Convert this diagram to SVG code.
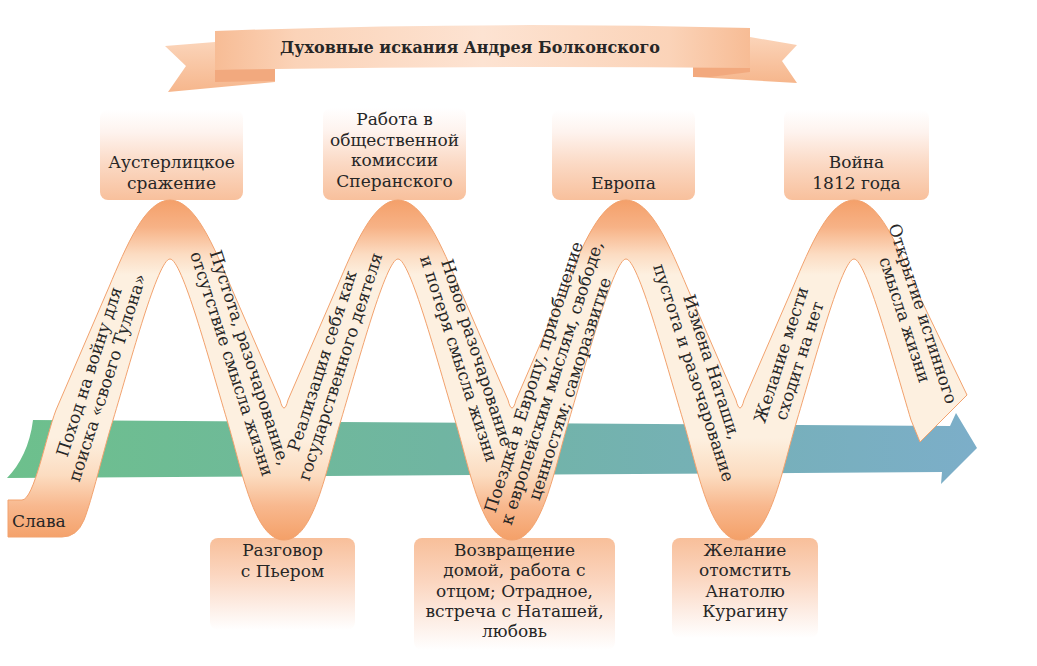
<svg xmlns="http://www.w3.org/2000/svg" width="1037" height="666" viewBox="0 0 1037 666">
<defs>
  <linearGradient id="gArrow" gradientUnits="userSpaceOnUse" x1="7" y1="0" x2="978" y2="0">
    <stop offset="0" stop-color="#6dc08c"/>
    <stop offset="0.45" stop-color="#70b5a2"/>
    <stop offset="0.75" stop-color="#76b0b8"/>
    <stop offset="1" stop-color="#7caec9"/>
  </linearGradient>
  <linearGradient id="gRibbon" gradientUnits="userSpaceOnUse" x1="0" y1="200" x2="0" y2="540">
    <stop offset="0" stop-color="#f4a06a"/>
    <stop offset="0.08" stop-color="#f7b286"/>
    <stop offset="0.16" stop-color="#fcdcc2"/>
    <stop offset="0.22" stop-color="#fdf0e0"/>
    <stop offset="0.70" stop-color="#fdf0e0"/>
    <stop offset="0.81" stop-color="#fcdcc0"/>
    <stop offset="0.90" stop-color="#f8b88e"/>
    <stop offset="1" stop-color="#f4a068"/>
  </linearGradient>
  <linearGradient id="gTop" x1="0" y1="0" x2="0" y2="1">
    <stop offset="0" stop-color="#ffffff"/>
    <stop offset="0.25" stop-color="#fef3ee"/>
    <stop offset="0.6" stop-color="#fbd9c4"/>
    <stop offset="1" stop-color="#f8c09c"/>
  </linearGradient>
  <linearGradient id="gBottom" x1="0" y1="0" x2="0" y2="1">
    <stop offset="0" stop-color="#f8bf9a"/>
    <stop offset="0.4" stop-color="#fbd6c0"/>
    <stop offset="0.75" stop-color="#fdeee6"/>
    <stop offset="1" stop-color="#ffffff"/>
  </linearGradient>
  <linearGradient id="gBanner" x1="0" y1="0" x2="1" y2="0">
    <stop offset="0" stop-color="#f7bc95"/>
    <stop offset="0.15" stop-color="#fbd3b8"/>
    <stop offset="0.5" stop-color="#fde3d2"/>
    <stop offset="0.85" stop-color="#fbd3b8"/>
    <stop offset="1" stop-color="#f7bc95"/>
  </linearGradient>
  <linearGradient id="gTail" x1="0" y1="0" x2="0" y2="1">
    <stop offset="0" stop-color="#fbd4b9"/>
    <stop offset="1" stop-color="#f6b68c"/>
  </linearGradient>
</defs>
<style>
  text { font-family: "DejaVu Serif", "Liberation Serif", serif; fill: #262626; }
  .lbl { font-size: 17px; text-anchor: middle; }
  .title { font-size: 16px; font-weight: bold; text-anchor: middle; }
  .boxT { fill: url(#gTop); }
  .boxB { fill: url(#gBottom); }
  .fold { fill: #f2a97e; }
  .tail { fill: url(#gTail); }
</style>
<rect width="1037" height="666" fill="#ffffff"/>

<g id="title">
  <path class="tail" d="M 215,42 L 165,46 L 186,66 L 168,92 L 275,82 L 275,70 L 215,70 Z"/>
  <path class="fold" d="M 215,69 L 275,69 L 275,81 L 215,82 Z"/>
  <path class="tail" d="M 750,37 L 797,45 L 782,61 L 797,83 L 695,77 L 695,68 L 750,68 Z"/>
  <path class="fold" d="M 693,67 L 750,67 L 750,72 L 710,77 L 693,77 Z"/>
  <path d="M 215,31 Q 483,21 750,28 L 750,68 Q 483,65 215,70 Z" fill="url(#gBanner)"/>
  <text class="title" x="470" y="53">Духовные искания Андрея Болконского</text>
</g>

<g id="top-austerlitz">
  <rect class="boxT" x="100" y="110" width="143" height="90" rx="8"/>
  <text class="lbl" x="171.5" y="168">Аустерлицкое</text>
  <text class="lbl" x="171.5" y="189">сражение</text>
</g>
<g id="top-speransky">
  <rect class="boxT" x="323" y="108" width="143" height="92" rx="8"/>
  <text class="lbl" x="394.5" y="125">Работа в</text>
  <text class="lbl" x="394.5" y="146">общественной</text>
  <text class="lbl" x="394.5" y="166">комиссии</text>
  <text class="lbl" x="394.5" y="187">Сперанского</text>
</g>
<g id="top-europe">
  <rect class="boxT" x="552" y="110" width="143" height="90" rx="8"/>
  <text class="lbl" x="623.5" y="189">Европа</text>
</g>
<g id="top-war1812">
  <rect class="boxT" x="784" y="110" width="145" height="90" rx="8"/>
  <text class="lbl" x="856.5" y="168">Война</text>
  <text class="lbl" x="856.5" y="189">1812 года</text>
</g>

<g id="bottom-pierre">
  <rect class="boxB" x="210" y="538" width="145" height="92" rx="8"/>
  <text class="lbl" x="282.5" y="556">Разговор</text>
  <text class="lbl" x="282.5" y="577">с Пьером</text>
</g>
<g id="bottom-return">
  <rect class="boxB" x="414" y="538" width="201" height="112" rx="8"/>
  <text class="lbl" x="514.5" y="556">Возвращение</text>
  <text class="lbl" x="514.5" y="576">домой, работа с</text>
  <text class="lbl" x="514.5" y="597">отцом; Отрадное,</text>
  <text class="lbl" x="514.5" y="617">встреча с Наташей,</text>
  <text class="lbl" x="514.5" y="637">любовь</text>
</g>
<g id="bottom-revenge">
  <rect class="boxB" x="672" y="538" width="146" height="100" rx="8"/>
  <text class="lbl" x="745" y="556">Желание</text>
  <text class="lbl" x="745" y="576">отомстить</text>
  <text class="lbl" x="745" y="597">Анатолю</text>
  <text class="lbl" x="745" y="617">Курагину</text>
</g>

<g id="connectors">
  <path id="time-arrow" fill="url(#gArrow)" d="M 33,420 L 950,426 L 956,413 L 977,448 L 941,484 L 942,472 L 7,478 C 20,465 30,445 33,420 Z"/>
  <path id="life-ribbon" fill="url(#gRibbon)" stroke="#f2a26e" stroke-width="1" stroke-linejoin="round"
    d="M 8,500 L 22,500 C 34,500 46,436 56,410 L 109,287
       C 126,247 145,200 170,200 C 195,200 214,247 231,287
       L 280,400 Q 284,416 288,400 L 337,287
       C 354,247 373,200 398,200 C 423,200 442,247 459,287
       L 508,400 Q 512,416 516,400 L 565,287
       C 582,247 601,200 626,200 C 651,200 670,247 687,287
       L 736,400 Q 740,416 744,400 L 793,287
       C 810,247 829,200 854,200 C 879,200 898,247 915,287
       L 967,395 L 920,442 L 911,420
       C 893,360 866,259 854,259 C 842,259 815,360 797,420
       C 782,470 770,540 740,540 C 710,540 698,470 683,420
       C 665,360 638,259 626,259 C 614,259 587,360 569,420
       C 554,470 542,540 512,540 C 482,540 470,470 455,420
       C 437,360 410,259 398,259 C 386,259 359,360 341,420
       C 326,470 314,540 284,540 C 254,540 242,470 227,420
       C 209,360 182,259 170,259 C 158,259 131,360 113,420
       C 103,452 92,500 84,520 Q 77,537 62,537 L 8,537 Z"/>
</g>

<g id="start-glory">
  <text x="12" y="527" style="font-size:17px">Слава</text>
</g>

<g id="slope-toulon" transform="translate(99,375) rotate(-72)">
  <text class="lbl" x="0" y="-4.5">Поход на войну для</text>
  <text class="lbl" x="0" y="14.5">поиска «своего Тулона»</text>
</g>
<g id="slope-emptiness" transform="translate(240,361) rotate(72)">
  <text class="lbl" x="0" y="-4.5">Пустота, разочарование,</text>
  <text class="lbl" x="0" y="14.5">отсутствие смысла жизни</text>
</g>
<g id="slope-statesman" transform="translate(332,364) rotate(-72)">
  <text class="lbl" x="0" y="-4.5">Реализация себя как</text>
  <text class="lbl" x="0" y="14.5">государственного деятеля</text>
</g>
<g id="slope-disappointment" transform="translate(467,356) rotate(72)">
  <text class="lbl" x="0" y="-4.5">Новое разочарование</text>
  <text class="lbl" x="0" y="14.5">и потеря смысла жизни</text>
</g>
<g id="slope-europe" transform="translate(552,383) rotate(-72)">
  <text class="lbl" x="0" y="-13.5">Поездка в Европу, приобщение</text>
  <text class="lbl" x="0" y="5.5">к европейским мыслям, свободе,</text>
  <text class="lbl" x="0" y="24.5">ценностям; саморазвитие</text>
</g>
<g id="slope-betrayal" transform="translate(702,370) rotate(72)">
  <text class="lbl" x="0" y="-4.5">Измена Наташи,</text>
  <text class="lbl" x="0" y="14.5">пустота и разочарование</text>
</g>
<g id="slope-revenge-fades" transform="translate(791,358) rotate(-72)">
  <text class="lbl" x="0" y="-4.5">Желание мести</text>
  <text class="lbl" x="0" y="14.5">сходит на нет</text>
</g>
<g id="slope-true-meaning" transform="translate(913,317) rotate(72)">
  <text class="lbl" x="0" y="-4.5">Открытие истинного</text>
  <text class="lbl" x="0" y="14.5">смысла жизни</text>
</g>
</svg>
